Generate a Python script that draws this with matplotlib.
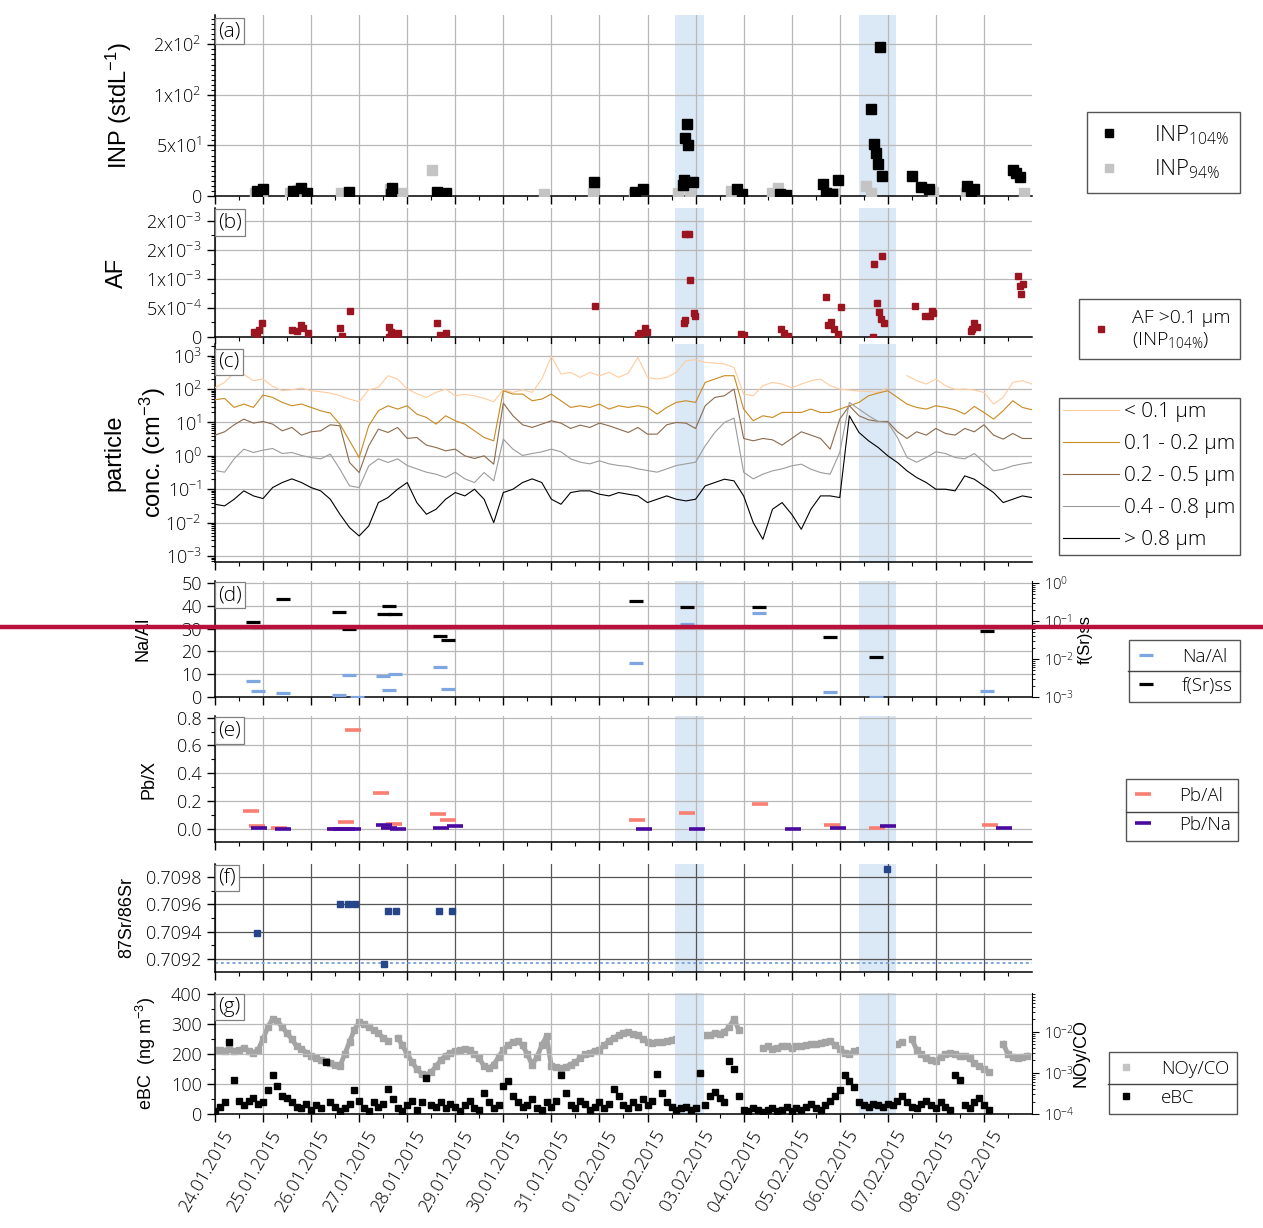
import numpy as np
import pandas as pd
import matplotlib
matplotlib.use("Agg")
import matplotlib.pyplot as plt
import matplotlib.dates as mdates
from matplotlib.ticker import FixedLocator, FixedFormatter, MultipleLocator, FormatStrFormatter, LogLocator, NullFormatter
from matplotlib.lines import Line2D
from matplotlib.transforms import ScaledTranslation

plt.rcParams['font.family'] = ['Open Sans', 'DejaVu Sans']
plt.rcParams['font.weight'] = 'light'
plt.rcParams['mathtext.default'] = 'regular'

t0 = pd.Timestamp("2015-01-24")

def to_date(days):
    return t0 + pd.to_timedelta(np.asarray(days, dtype=float), unit="D")

# ---------------- data (time in days after 24.01.2015 00:00) ----------------
# (a) INP concentrations
inp104_t = [0.87, 1.0, 1.62, 1.79, 1.91, 2.79, 3.66, 3.68, 4.62, 4.80, 7.88, 8.75, 8.90,
            9.73, 9.75, 9.77, 9.82, 9.84, 9.94, 10.87, 10.96, 11.75, 11.89, 12.66, 12.72,
            12.83, 12.97, 13.66, 13.72, 13.76, 13.80, 13.83, 13.87, 14.51, 14.70, 14.86,
            15.65, 15.74, 15.80, 16.61, 16.67, 16.76]
inp104_v = [5, 7, 5, 8, 3, 4, 2, 8, 4, 3, 14, 4, 7,
            11, 16, 57, 71, 50, 14, 7, 2, 2, 0.5, 12, 3,
            2, 16, 86, 51, 43, 32, 147, 20, 20, 9, 7,
            10, 5, 7, 26, 23, 19]
inp94_t = [0.83, 0.98, 1.56, 1.72, 1.83, 2.62, 2.74, 3.64, 3.89, 4.51, 4.80, 6.84, 7.86,
           8.71, 9.63, 9.88, 10.74, 11.60, 11.71, 12.89, 13.55, 13.65, 14.93, 15.63, 16.84]
inp94_v = [3, 2, 3, 6, 3, 3, 3, 6.5, 3, 26, 2, 2, 3,
           2, 3, 2, 4.5, 2.5, 7.5, 2.5, 10, 2.5, 3.5, 2.5, 2.5]

# (b) activated fraction
af_t = [0.82, 0.87, 0.92, 0.98, 1.60, 1.70, 1.80, 1.83, 1.93, 2.60, 2.64, 2.80, 3.63, 3.66,
        3.71, 3.77, 3.80, 3.63, 4.62, 4.68, 4.80, 7.90, 8.80, 8.85, 8.95, 8.99, 9.75, 9.79,
        9.77, 9.86, 9.88, 9.96, 9.99, 10.94, 11.00, 11.77, 11.84, 11.93, 12.72, 12.75, 12.81,
        12.87, 12.97, 13.03, 13.70, 13.71, 13.88, 13.78, 13.81, 13.86, 13.93, 14.57, 14.77,
        14.87, 14.92, 14.94, 15.75, 15.79, 15.86, 15.73, 16.70, 16.75, 16.82, 16.78]
af_v = [0.8e-4, 0.34e-4, 1.2e-4, 2.46e-4, 1.2e-4, 1.1e-4, 2.06e-4, 1.5e-4, 0.75e-4, 1.5e-4,
        0.17e-4, 4.47e-4, 1.78e-4, 0.9e-4, 0.6e-4, 0.34e-4, 0.75e-4, 0.06e-4, 2.35e-4, 0.34e-4,
        0.75e-4, 5.27e-4, 0.4e-4, 0.63e-4, 1.5e-4, 0.92e-4, 2.35e-4, 2.9e-4, 17.7e-4, 17.8e-4,
        9.8e-4, 4.07e-4, 3.67e-4, 0.46e-4, 0.34e-4, 1.3e-4, 0.75e-4, 0.23e-4, 6.93e-4, 2.06e-4,
        2.64e-4, 1.3e-4, 0.46e-4, 5.2e-4, 0.06e-4, 12.6e-4, 13.9e-4, 5.8e-4, 4.36e-4, 3.04e-4,
        2.46e-4, 5.33e-4, 3.67e-4, 3.67e-4, 4.47e-4, 4.07e-4, 1.3e-4, 2.35e-4, 1.66e-4, 1.0e-4,
        10.5e-4, 8.8e-4, 9.1e-4, 7.4e-4]

# (c) size-resolved particle concentration, log10(cm-3), every 0.2 day
t_c = np.arange(0, 17.01, 0.2)
lg_lt01 = [2.04, 2.2, 2.5, 2.44, 2.25, 2.3, 2.08, 1.95, 1.98, 2.03, 1.95, 1.92, 1.88, 1.8, 1.7,
           1.62, 1.98, 2.05, 2.4, 2.3, 2.0, 1.86, 1.75, 1.9, 2.0, 1.8, 1.84, 1.8, 1.72, 1.62,
           1.98, 1.9, 1.98, 1.9, 2.3, 2.98, 2.45, 2.5, 2.35, 2.5, 2.4, 2.5, 2.35, 2.48, 2.95,
           2.35, 2.3, 2.35, 2.5, 2.85, 2.88, 2.8, 2.78, 2.75, 2.65, 1.85, 1.8, 2.1, 2.2, 2.15,
           2.04, 2.15, 2.25, 2.3, 2.1, 2.0, 1.97, 1.94, 1.93, 1.9, 2.05, np.nan, 2.4, 2.25, 2.15,
           2.3, 2.1, 1.99, 2.0, 1.97, 1.9, 1.55, 1.75, 2.2, 2.25, 2.15]
lg_01_02 = [1.68, 1.72, 1.45, 1.55, 1.45, 1.82, 1.75, 1.6, 1.5, 1.55, 1.45, 1.35, 1.28, 0.95, 0.45,
            -0.05, 0.9, 1.35, 1.5, 1.4, 1.5, 1.25, 1.15, 0.95, 1.2, 1.05, 0.95, 0.75, 0.55, 0.45,
            1.95, 1.85, 1.85, 1.65, 1.7, 1.85, 1.65, 1.45, 1.5, 1.45, 1.55, 1.4, 1.5, 1.45, 1.5,
            1.45, 1.25, 1.45, 1.6, 1.65, 1.6, 2.2, 2.3, 2.4, 2.4, 1.4, 1.05, 1.2, 1.15, 1.3,
            1.3, 1.3, 1.4, 1.3, 1.3, 1.4, 1.5, 1.6, 1.8, 1.88, 1.95, 1.75, 1.55, 1.45, 1.4,
            1.5, 1.45, 1.38, 1.25, 1.48, 1.3, 1.1, 1.35, 1.65, 1.45, 1.38]
lg_02_05 = [0.62, 0.72, 0.93, 1.1, 0.98, 1.03, 0.95, 0.75, 0.85, 0.62, 0.72, 0.75, 0.93, 0.9, -0.2,
            -0.5, 0.3, 0.8, 0.7, 0.85, 0.52, 0.55, 0.32, 0.25, 0.15, 0.2, 0.0, -0.08, 0.0, -0.25,
            1.58, 1.2, 0.93, 0.85, 0.95, 1.05, 0.98, 0.82, 0.92, 0.85, 0.98, 0.9, 0.8, 0.7, 0.85,
            0.65, 0.65, 0.93, 1.0, 0.98, 0.82, 1.5, 1.75, 1.8, 2.0, 0.52, 0.45, 0.52, 0.48, 0.32,
            0.52, 0.72, 0.62, 0.52, 0.2, 1.1, 1.5, 1.2, 1.08, 1.03, 1.03, 0.72, 0.52, 0.72, 0.62,
            0.82, 0.67, 0.62, 0.82, 0.72, 0.93, 0.62, 0.5, 0.67, 0.52, 0.52]
lg_04_08 = [-0.44, -0.49, -0.09, 0.2, 0.1, 0.17, 0.22, 0.07, 0.1, 0.01, -0.05, -0.09, 0.05, -0.4, -0.9,
            -0.95, -0.3, -0.09, -0.2, -0.09, -0.29, -0.39, -0.49, -0.55, -0.65, -0.49, -0.69, -0.8, -0.5, -0.75,
            0.5, 0.2, 0.01, 0.07, 0.12, 0.2, 0.12, -0.09, -0.19, -0.24, -0.15, -0.24, -0.29, -0.32, -0.39,
            -0.44, -0.49, -0.39, -0.29, -0.24, -0.19, 0.3, 0.7, 1.0, 1.13, -0.49, -0.69, -0.55, -0.45, -0.39,
            -0.3, -0.25, -0.4, -0.5, -0.55, 0.1, 1.6, 1.4, 1.2, 1.03, 1.0, 0.55, -0.05, -0.19, -0.05,
            0.12, 0.07, -0.05, -0.09, 0.07, -0.19, -0.45, -0.4, -0.3, -0.24, -0.2]
lg_gt08 = [-1.45, -1.5, -1.3, -1.05, -1.2, -1.28, -0.95, -0.8, -0.69, -0.8, -0.95, -1.05, -1.3, -1.75, -2.15,
           -2.4, -2.1, -1.4, -1.25, -1.0, -0.8, -1.4, -1.75, -1.6, -1.3, -1.1, -1.2, -1.0, -1.3, -2.0,
           -1.1, -1.0, -0.8, -0.69, -0.8, -1.3, -1.45, -1.1, -1.05, -1.05, -1.15, -1.2, -1.1, -1.15, -1.2,
           -1.4, -1.3, -1.2, -1.3, -1.35, -1.3, -0.9, -0.8, -0.7, -0.75, -1.2, -2.0, -2.5, -1.6, -1.4,
           -1.75, -2.2, -1.6, -1.2, -1.2, -1.25, 1.2, 0.7, 0.45, 0.25, 0.0, -0.2, -0.45, -0.65, -0.8,
           -1.0, -1.0, -1.05, -0.6, -0.7, -0.9, -1.1, -1.4, -1.3, -1.2, -1.25]

# (d) filter samples
fsr_t = [0.79, 0.89, 1.41, 2.58, 2.79, 3.51, 3.62, 3.74, 4.68, 4.84, 8.77, 9.83, 11.33, 12.79, 13.76, 16.07]
fsr_v = [0.094, 0.069, 0.38, 0.174, 0.062, 0.153, 0.247, 0.153, 0.041, 0.032, 0.337, 0.234, 0.234, 0.038, 0.0112, 0.054]
naal_t = [0.79, 0.89, 1.41, 2.58, 2.79, 2.95, 3.49, 3.62, 3.74, 4.68, 4.84, 8.77, 9.83, 11.33, 12.79, 13.76, 16.07]
naal_v = [7, 2.6, 1.8, 0.9, 9.8, 0.2, 9.2, 3.1, 10.1, 13.2, 3.5, 15, 32, 37, 2.2, 0.2, 2.6]

# (e) Pb ratios
pbal_t = [0.75, 0.87, 1.33, 2.49, 2.72, 2.87, 3.45, 3.72, 4.65, 4.84, 8.79, 9.83, 11.35, 12.84, 13.78, 16.13]
pbal_v = [0.128, 0.022, 0.007, 0.0, 0.05, 0.71, 0.26, 0.039, 0.106, 0.065, 0.063, 0.116, 0.179, 0.029, 0.007, 0.027]
pbna_t = [0.91, 1.41, 2.49, 2.62, 2.74, 2.87, 3.51, 3.62, 3.80, 4.71, 4.99, 8.92, 10.02, 12.02, 12.97, 14.01, 16.42]
pbna_v = [0.007, 0.0, 0.0, 0.0, 0.0, 0.0, 0.027, 0.007, 0.0, 0.007, 0.019, 0.0, 0.0, 0.0, 0.01, 0.019, 0.01]

# (f) strontium isotope ratio
sr_t = [0.87, 2.60, 2.77, 2.91, 3.51, 3.60, 3.76, 4.67, 4.94, 13.99]
sr_v = [0.70939, 0.70960, 0.70960, 0.70960, 0.70916, 0.70955, 0.70955, 0.70955, 0.70955, 0.70986]
sr_seawater = 0.70917

# (g) eBC (ng m-3) every 0.1 day, NOy/CO log10 every 0.1 day
t_ebc = np.arange(0, 16.15, 0.1)
ebc = [10, 25, 40, 240, 115, 45, 30, 45, 55, 35,
       40, 80, 130, 95, 60, 55, 40, 25, 20, 35,
       15, 30, 20, 175, 40, 25, 10, 20, 35, 80,
       45, 20, 10, 40, 25, 35, 85, 50, 20, 10,
       30, 45, 15, 40, 120, 30, 25, 40, 20, 35,
       25, 10, 30, 45, 20, 15, 70, 40, 20, 30,
       95, 110, 60, 40, 25, 30, 50, 20, 15, 40,
       25, 45, 130, 70, 30, 20, 45, 35, 15, 25,
       40, 20, 35, 85, 60, 30, 20, 40, 25, 50,
       30, 45, 135, 70, 40, 25, 15, 20, 25, 15,
       20, 138, 30, 60, 75, 55, 40, 176, 150, 60,
       15, 10, 20, 15, 8, 12, 20, 10, 15, 25,
       10, 20, 15, 25, 35, 20, 15, 30, 45, 60,
       80, 130, 110, 90, 40, 30, 25, 35, 30, 25,
       35, 30, 45, 60, 40, 25, 20, 35, 45, 30,
       20, 40, 25, 15, 130, 115, 30, 20, 40, 55,
       30, 15]
t_noy = np.arange(0, 16.95, 0.1)
lg_noy_co = [-2.45, -2.44, -2.46, -2.41, -2.47, -2.44, -2.40, -2.46, -2.51, -2.44,
             -2.18, -1.89, -1.69, -1.75, -1.89, -2.04, -2.18, -2.36, -2.41, -2.51,
             -2.58, -2.63, -2.68, -2.71, -2.75, -2.80, -2.84, -2.55, -2.25, -1.96,
             -1.77, -1.82, -1.89, -1.96, -2.04, -2.15, -2.22, np.nan, -2.15, -2.33,
             -2.55, -2.73, -2.91, -3.02, -3.05, -2.98, -2.84, -2.69, -2.58, -2.51,
             -2.47, -2.44, -2.41, -2.44, -2.55, -2.65, -2.84, -2.89, -2.80, -2.62,
             -2.44, -2.33, -2.25, -2.22, -2.33, -2.55, -2.80, -2.62, -2.33, -2.11,
             -2.84, -2.87, -2.89, -2.85, -2.80, -2.73, -2.65, -2.55, -2.51, -2.47,
             -2.44, -2.33, -2.22, -2.15, -2.09, -2.04, -2.01, -2.05, -2.07, -2.18,
             -2.25, -2.27, -2.24, -2.25, -2.22, -2.20, -2.18, -2.22, -2.15, -2.18,
             -2.17, -2.12, -2.09, -2.07, -2.04, -2.05, -2.00, -1.89, -1.69, -1.96,
             np.nan, np.nan, np.nan, np.nan, -2.40, -2.36, -2.41, -2.39, -2.34, -2.36,
             -2.39, -2.36, -2.34, -2.33, -2.31, -2.31, -2.27, -2.24, -2.22, -2.33,
             -2.41, -2.51, -2.55, -2.47, -2.44, -2.40, -2.36, -2.34, -2.33, -2.31,
             -2.33, -2.31, -2.29, -2.25, np.nan, -2.18, -2.44, -2.55, -2.65, -2.69,
             -2.71, -2.62, -2.55, -2.51, -2.55, -2.58, -2.60, -2.65, -2.76, -2.84,
             -2.91, -2.98, np.nan, np.nan, -2.29, -2.55, -2.62, -2.65, -2.62, -2.58]

# periods highlighted
events = [(9.58, 10.17), (13.41, 14.16)]

# ---------------- figure ----------------
fig = plt.figure(figsize=(12.63, 12.28), dpi=100)
L, W = 0.1702, 0.6469
ax_a = fig.add_axes([L, 0.8404, W, 0.1474])
ax_b = fig.add_axes([L, 0.72557, W, 0.10505])
ax_c = fig.add_axes([L, 0.54235, W, 0.17752])
ax_d = fig.add_axes([L, 0.43241, W, 0.09446])
ax_e = fig.add_axes([L, 0.31433, W, 0.10261])
ax_f = fig.add_axes([L, 0.20847, W, 0.08795])
ax_g = fig.add_axes([L, 0.09283, W, 0.09894])
axes = [ax_a, ax_b, ax_c, ax_d, ax_e, ax_f, ax_g]

day_ticks = mdates.date2num(to_date(np.arange(17)))
half_ticks = mdates.date2num(to_date(np.arange(17) + 0.5))
lab_font = dict(family=['Liberation Sans', 'DejaVu Sans'], fontweight='normal')

for ax, tag in zip(axes, "abcdefg"):
    ax.set_xlim(t0, t0 + pd.Timedelta(days=17))
    ax.xaxis.set_major_locator(FixedLocator(day_ticks))
    ax.xaxis.set_minor_locator(FixedLocator(half_ticks))
    ax.xaxis.set_major_formatter(mdates.DateFormatter("%d.%m.%Y"))
    ax.grid(True, which='major', color='#b8b8b8', lw=0.9, zorder=0)
    ax.set_axisbelow(True)
    for s in ['top', 'right']:
        ax.spines[s].set_visible(False)
    for s in ['left', 'bottom']:
        ax.spines[s].set_linewidth(1.1)
    ax.tick_params(which='major', direction='out', length=6, width=1, labelsize=13)
    ax.tick_params(which='minor', direction='out', length=3, width=0.8)
    if ax is not ax_g:
        ax.tick_params(axis='x', labelbottom=False)
    for a, b in events:
        ax.axvspan(to_date(a), to_date(b), color='#dbe8f6', lw=0, zorder=0.5)
    ax.text(0.004, 0.965, "(%s)" % tag, transform=ax.transAxes, ha='left', va='top', fontsize=15,
            bbox=dict(boxstyle='square,pad=0.15', fc='white', ec='#808080', lw=0.9), zorder=5)

# (a)
ax_a.plot(to_date(inp94_t), inp94_v, 's', color='#c4c4c4', ms=6.5, zorder=3)
ax_a.plot(to_date(inp104_t), inp104_v, 's', color='black', ms=6.5, zorder=4)
ax_a.set_ylim(0, 179)
ax_a.yaxis.set_major_locator(FixedLocator([0, 50, 100, 150]))
ax_a.yaxis.set_major_formatter(FixedFormatter(["0", "5x10$^{1}$", "1x10$^{2}$", "2x10$^{2}$"]))
ax_a.yaxis.set_minor_locator(MultipleLocator(5))
ax_a.set_ylabel("INP (stdL$^{-1}$)", fontsize=17, **lab_font)
ax_a.yaxis.set_label_coords(-0.099, 0.5)

# (b)
ax_b.plot(to_date(af_t), af_v, 's', color='#9b1520', ms=4.5, zorder=3)
ax_b.set_ylim(0, 2.22e-3)
ax_b.yaxis.set_major_locator(FixedLocator([0, 5e-4, 1e-3, 1.5e-3, 2e-3]))
ax_b.yaxis.set_major_formatter(FixedFormatter(["0", "5x10$^{-4}$", "1x10$^{-3}$", "2x10$^{-3}$", "2x10$^{-3}$"]))
ax_b.yaxis.set_minor_locator(MultipleLocator(2.5e-4))
ax_b.set_ylabel("AF", fontsize=17, **lab_font)
ax_b.yaxis.set_label_coords(-0.107, 0.5)

# (c)
tc = to_date(t_c)
c_series = [(lg_lt01, '#ffcc9e', '< 0.1 μm'), (lg_01_02, '#c98a20', '0.1 - 0.2 μm'),
            (lg_02_05, '#8c6a4c', '0.2 - 0.5 μm'), (lg_04_08, '#9c9c9c', '0.4 - 0.8 μm'),
            (lg_gt08, '#000000', '> 0.8 μm')]
c_handles = []
for lg, col, lab in c_series:
    ln, = ax_c.plot(tc, 10 ** np.array(lg), color=col, lw=0.8, label=lab, zorder=3)
    c_handles.append(ln)
ax_c.set_yscale('log')
ax_c.set_ylim(10 ** -3.18, 10 ** 3.35)
ax_c.yaxis.set_major_locator(LogLocator(base=10, numticks=10))
ax_c.yaxis.set_minor_locator(LogLocator(base=10, subs=np.arange(2, 10), numticks=20))
ax_c.yaxis.set_minor_formatter(NullFormatter())
ax_c.set_ylabel("particle\nconc. (cm$^{-3}$)", fontsize=17, linespacing=1.5, **lab_font)
ax_c.yaxis.set_label_coords(-0.058, 0.5)

# (d)
ax_d.plot(to_date(naal_t), naal_v, '_', color='#7ea6e0', ms=10, mew=2.3, zorder=3)
ax_d.set_ylim(0, 50.9)
ax_d.yaxis.set_major_locator(MultipleLocator(10))
ax_d.set_ylabel("Na/Al", fontsize=13, **lab_font)
ax_d.yaxis.set_label_coords(-0.078, 0.5)
ax_d2 = ax_d.twinx()
ax_d2.plot(to_date(fsr_t), fsr_v, '_', color='black', ms=10, mew=2.3, zorder=4)
ax_d2.set_yscale('log')
ax_d2.set_ylim(1e-3, 10 ** 0.054)
ax_d2.yaxis.set_major_locator(FixedLocator([1e-3, 1e-2, 1e-1, 1e0]))
ax_d2.yaxis.set_minor_locator(LogLocator(base=10, subs=np.arange(2, 10), numticks=20))
ax_d2.yaxis.set_minor_formatter(NullFormatter())
ax_d2.tick_params(which='major', direction='out', length=5, labelsize=10.5)
ax_d2.tick_params(which='minor', direction='out', length=2.5)
for s in ['top', 'left', 'bottom']:
    ax_d2.spines[s].set_visible(False)
ax_d2.set_ylabel("f(Sr)ss", fontsize=12, **lab_font)
ax_d2.yaxis.set_label_coords(1.056, 0.5)

# (e)
ax_e.plot(to_date(pbal_t), pbal_v, '_', color='#fa7f72', ms=11, mew=2.6, zorder=3)
ax_e.plot(to_date(pbna_t), pbna_v, '_', color='#4a0aa0', ms=11, mew=2.6, zorder=4)
ax_e.set_ylim(-0.094, 0.812)
ax_e.yaxis.set_major_locator(MultipleLocator(0.2))
ax_e.yaxis.set_minor_locator(MultipleLocator(0.1))
ax_e.yaxis.set_major_formatter(FormatStrFormatter('%.1f'))
ax_e.set_ylabel("Pb/X", fontsize=13, **lab_font)
ax_e.yaxis.set_label_coords(-0.07, 0.5)

# (f)
ax_f.axhline(sr_seawater, color='#7fa6dc', lw=1.4, ls=(0, (1.5, 1.5)), zorder=2)
ax_f.plot(to_date(sr_t), sr_v, 's', color='#27468a', ms=4, zorder=3)
ax_f.set_ylim(0.709103, 0.709897)
ax_f.yaxis.set_major_locator(FixedLocator([0.7092, 0.7094, 0.7096, 0.7098]))
ax_f.yaxis.set_minor_locator(MultipleLocator(0.0001))
ax_f.yaxis.set_major_formatter(FormatStrFormatter('%.4f'))
ax_f.grid(True, which='major', color='#555555', lw=0.9, zorder=0)
ax_f.set_ylabel("87Sr/86Sr", fontsize=13, **lab_font)
ax_f.yaxis.set_label_coords(-0.097, 0.5)

# (g)
ax_g2 = ax_g.twinx()
ax_g.set_zorder(ax_g2.get_zorder() + 1)
ax_g.patch.set_visible(False)
ax_g2.plot(to_date(t_noy), 10 ** np.array(lg_noy_co), 's-', color='#a4a4a4', lw=3.5, ms=4, zorder=3)
ax_g2.set_yscale('log')
ax_g2.set_ylim(1e-4, 10 ** -1.05)
ax_g2.yaxis.set_major_locator(FixedLocator([1e-4, 1e-3, 1e-2]))
ax_g2.yaxis.set_minor_locator(LogLocator(base=10, subs=np.arange(2, 10), numticks=20))
ax_g2.yaxis.set_minor_formatter(NullFormatter())
ax_g2.tick_params(which='major', direction='out', length=5, labelsize=10.5)
ax_g2.tick_params(which='minor', direction='out', length=2.5)
for s in ['top', 'left', 'bottom']:
    ax_g2.spines[s].set_visible(False)
ax_g2.set_ylabel("NOy/CO", fontsize=13, **lab_font)
ax_g2.yaxis.set_label_coords(1.049, 0.5)
ax_g.plot(to_date(t_ebc), ebc, 's', color='black', ms=4.2, zorder=4)
ax_g.set_ylim(0, 405)
ax_g.yaxis.set_major_locator(MultipleLocator(100))
ax_g.yaxis.set_minor_locator(MultipleLocator(50))
ax_g.set_ylabel("eBC  (ng m$^{-3}$)", fontsize=13, **lab_font)
ax_g.yaxis.set_label_coords(-0.07, 0.5)
shift = ScaledTranslation(0.06, 0, fig.dpi_scale_trans)
for lbl in ax_g.get_xticklabels():
    lbl.set_rotation(60)
    lbl.set_ha('right')
    lbl.set_rotation_mode('anchor')
    lbl.set_fontsize(13)
    lbl.set_transform(lbl.get_transform() + shift)

# ---------------- legends ----------------
leg_kw = dict(loc='upper right', frameon=True, fancybox=False, edgecolor='#555555',
              borderaxespad=0, framealpha=1)
fig.legend([Line2D([], [], marker='s', ls='none', color='black', ms=6),
            Line2D([], [], marker='s', ls='none', color='#c4c4c4', ms=6)],
           ["INP$_{104\\%}$", "INP$_{94\\%}$"], bbox_to_anchor=(0.9818, 0.9088),
           fontsize=16, handlelength=1.0, handletextpad=1.5, labelspacing=0.5, borderpad=0.5, **leg_kw)
fig.legend([Line2D([], [], marker='s', ls='none', color='#9b1520', ms=5)],
           ["AF >0.1 μm\n(INP$_{104\\%}$)"], bbox_to_anchor=(0.9818, 0.7565),
           fontsize=14, handlelength=1.2, handletextpad=1.0, borderpad=0.5, **leg_kw)
fig.legend(c_handles, [h.get_label() for h in c_handles], bbox_to_anchor=(0.9818, 0.6759),
           fontsize=15, handlelength=2.7, handletextpad=0.25, labelspacing=0.58, borderpad=0.2,
           **leg_kw)
small_legs = [
    fig.legend([Line2D([], [], marker='_', ls='none', color='#7ea6e0', ms=10, mew=2.3),
                Line2D([], [], marker='_', ls='none', color='black', ms=10, mew=2.3)],
               ["Na/Al", "f(Sr)ss"], bbox_to_anchor=(0.9818, 0.4788),
               fontsize=13.5, handlelength=1.0, handletextpad=1.4, labelspacing=0.6,
               borderpad=0.4, **leg_kw),
    fig.legend([Line2D([], [], marker='_', ls='none', color='#fa7f72', ms=11, mew=2.6),
                Line2D([], [], marker='_', ls='none', color='#4a0aa0', ms=11, mew=2.6)],
               ["Pb/Al", "Pb/Na"], bbox_to_anchor=(0.9802, 0.3656),
               fontsize=13.5, handlelength=1.0, handletextpad=1.4, labelspacing=0.6,
               borderpad=0.4, **leg_kw),
    fig.legend([Line2D([], [], marker='s', ls='none', color='#c4c4c4', ms=5),
                Line2D([], [], marker='s', ls='none', color='black', ms=5)],
               ["NOy/CO", "eBC"], bbox_to_anchor=(0.9794, 0.1433),
               fontsize=13.5, handlelength=1.0, handletextpad=1.4, labelspacing=0.6,
               borderpad=0.4, **leg_kw),
]
for leg in small_legs:
    leg.set_zorder(2)

# divider lines inside the small legends (x0, x1, y in figure fraction)
dividers = [(0.8935, 0.9818, 0.4535), (0.8919, 0.9802, 0.3391), (0.8774, 0.9794, 0.1176)]
for x0, x1, y in dividers:
    fig.lines.append(Line2D([x0, x1], [y, y], transform=fig.transFigure, figure=fig,
                            color='#444444', lw=1.0, zorder=30))

# red marker line across the figure
fig.add_artist(Line2D([0, 1], [0.4894, 0.4894], transform=fig.transFigure, color='#b8103a', lw=3.2,
                      zorder=20))

fig.savefig("out.png", dpi=100)
